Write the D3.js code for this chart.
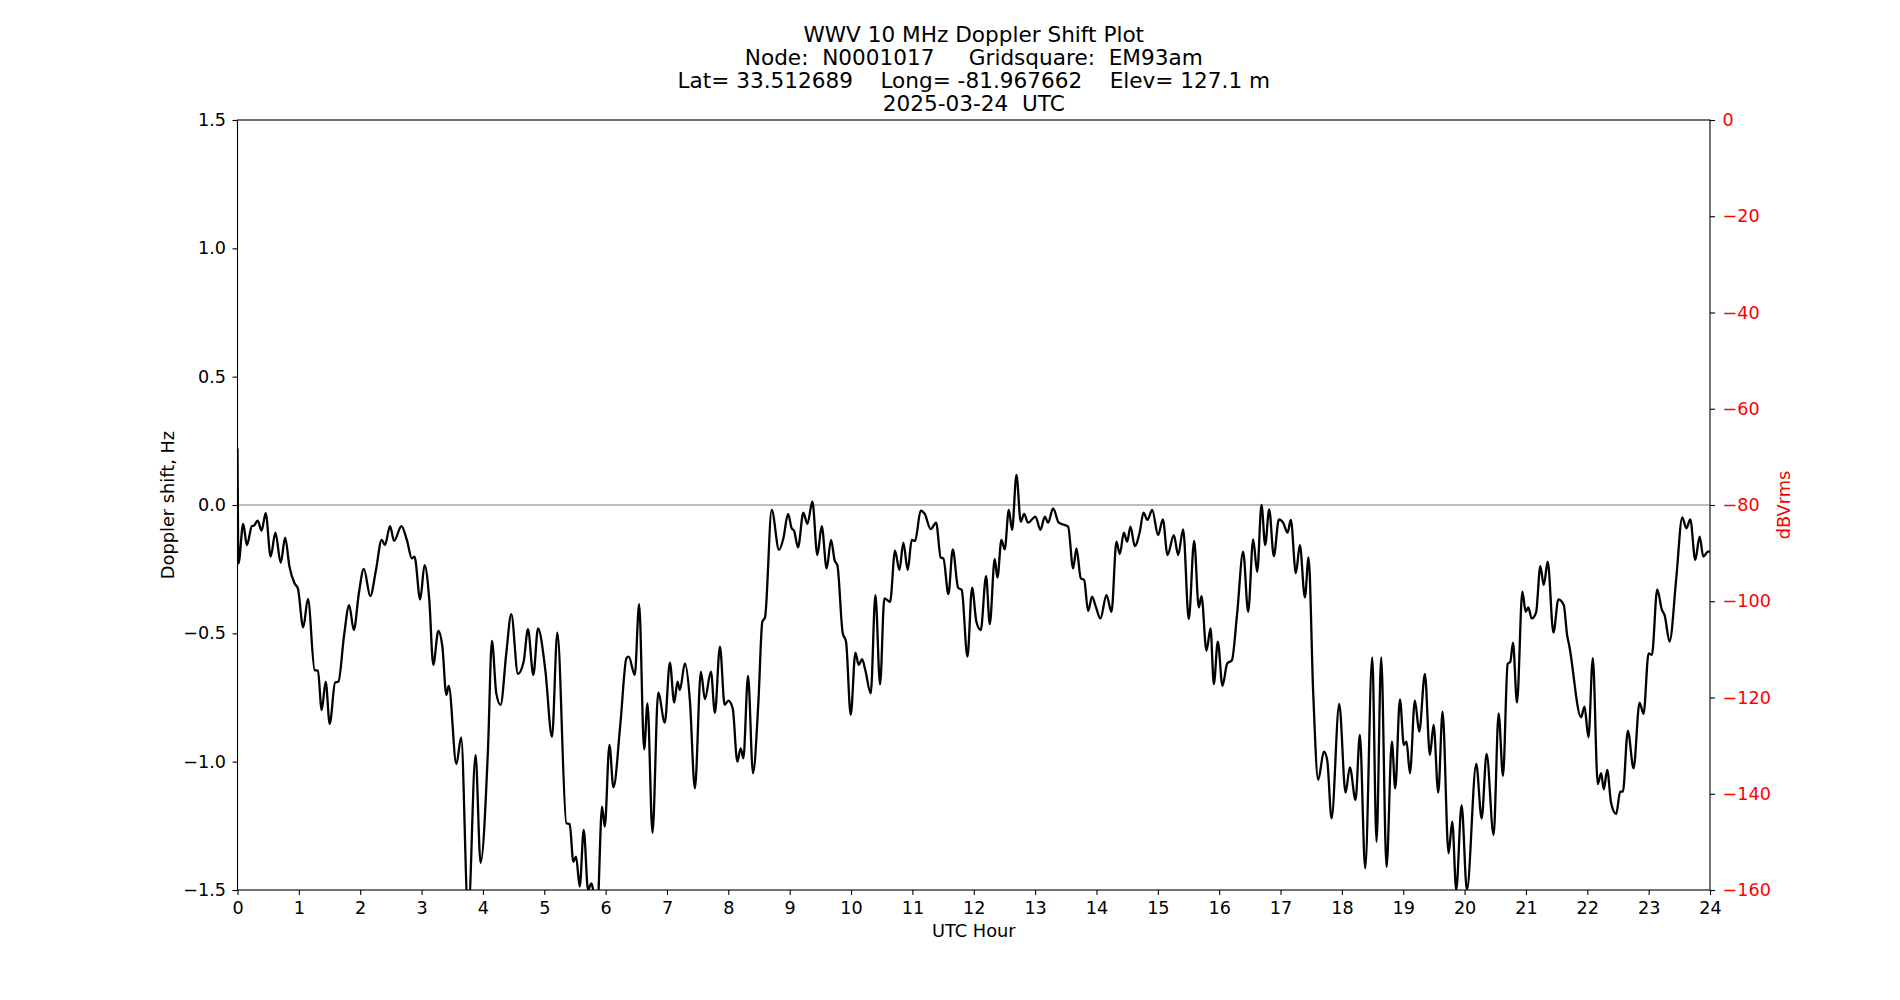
<!DOCTYPE html>
<html>
<head>
<meta charset="utf-8">
<script src="https://cdn.jsdelivr.net/npm/d3@7"></script>
<style>
  body { margin: 0; background: #fff; }
  text { font-family: "DejaVu Sans", sans-serif; }
</style>
</head>
<body>
<div id="chart"></div>
<script>
// Data
const titleLines = [
  'WWV 10 MHz Doppler Shift Plot',
  'Node:  N0001017     Gridsquare:  EM93am',
  'Lat= 33.512689    Long= -81.967662    Elev= 127.1 m',
  '2025-03-24  UTC'
]
const xTicks = d3.range(0, 25, 1)
const yTicks = [-1.5, -1.0, -0.5, 0.0, 0.5, 1.0, 1.5]
const dbTicks = [0, -20, -40, -60, -80, -100, -120, -140, -160]

// UTC hour of each sample
const hours = [
  0.000, 0.016, 0.093, 0.153, 0.235, 0.270, 0.328, 0.393, 0.459, 0.541,
  0.617, 0.705, 0.776, 0.847, 0.929, 0.984, 1.071, 1.148, 1.257, 1.311,
  1.372, 1.437, 1.503, 1.590, 1.645, 1.738, 1.820, 1.896, 1.978, 2.060,
  2.164, 2.257, 2.350, 2.404, 2.486, 2.552, 2.672, 2.760, 2.842, 2.885,
  2.978, 3.049, 3.126, 3.191, 3.273, 3.339, 3.404, 3.443, 3.568, 3.645,
  3.760, 3.880, 3.962, 4.082, 4.147, 4.218, 4.288, 4.381, 4.462, 4.571,
  4.664, 4.734, 4.822, 4.898, 5.017, 5.126, 5.213, 5.360, 5.414, 5.474,
  5.518, 5.578, 5.643, 5.714, 5.768, 5.860, 5.942, 5.986, 6.062, 6.127,
  6.241, 6.339, 6.377, 6.475, 6.546, 6.628, 6.682, 6.764, 6.857, 6.965,
  7.047, 7.118, 7.172, 7.210, 7.292, 7.373, 7.455, 7.553, 7.618, 7.716,
  7.781, 7.863, 7.940, 8.000, 8.071, 8.147, 8.201, 8.245, 8.321, 8.402,
  8.489, 8.554, 8.598, 8.707, 8.826, 8.897, 8.973, 9.033, 9.071, 9.136,
  9.223, 9.288, 9.370, 9.451, 9.522, 9.603, 9.674, 9.734, 9.777, 9.864,
  9.918, 9.995, 10.071, 10.125, 10.179, 10.234, 10.321, 10.397, 10.473, 10.543,
  10.636, 10.717, 10.788, 10.853, 10.924, 10.989, 11.043, 11.136, 11.201, 11.299,
  11.386, 11.462, 11.505, 11.587, 11.658, 11.745, 11.804, 11.897, 11.973, 12.043,
  12.114, 12.201, 12.261, 12.342, 12.386, 12.451, 12.505, 12.571, 12.625, 12.696,
  12.766, 12.821, 12.886, 13.005, 13.087, 13.158, 13.212, 13.293, 13.386, 13.484,
  13.538, 13.620, 13.674, 13.745, 13.799, 13.864, 13.929, 13.989, 14.065, 14.163,
  14.245, 14.326, 14.380, 14.446, 14.500, 14.554, 14.625, 14.707, 14.766, 14.832,
  14.908, 15.005, 15.082, 15.158, 15.261, 15.332, 15.413, 15.505, 15.592, 15.668,
  15.712, 15.793, 15.859, 15.913, 15.978, 16.054, 16.130, 16.207, 16.293, 16.391,
  16.473, 16.554, 16.620, 16.690, 16.750, 16.815, 16.891, 16.973, 17.043, 17.114,
  17.168, 17.250, 17.315, 17.397, 17.457, 17.533, 17.614, 17.707, 17.761, 17.832,
  17.957, 18.060, 18.130, 18.223, 18.293, 18.380, 18.495, 18.565, 18.641, 18.728,
  18.815, 18.870, 18.946, 19.011, 19.054, 19.109, 19.190, 19.261, 19.353, 19.435,
  19.495, 19.571, 19.641, 19.739, 19.799, 19.864, 19.951, 20.038, 20.190, 20.278,
  20.359, 20.473, 20.555, 20.626, 20.702, 20.746, 20.789, 20.854, 20.942, 20.996,
  21.039, 21.094, 21.165, 21.235, 21.290, 21.355, 21.448, 21.529, 21.616, 21.671,
  21.709, 21.899, 21.954, 22.019, 22.090, 22.171, 22.226, 22.269, 22.324, 22.389,
  22.471, 22.536, 22.580, 22.661, 22.754, 22.852, 22.917, 22.999, 23.053, 23.140,
  23.216, 23.260, 23.341, 23.450, 23.548, 23.614, 23.679, 23.760, 23.831, 23.891,
  23.967, 24.000
]

// Doppler shift (Hz) at each hour above
const doppler = [
  0.220, -0.227, -0.074, -0.156, -0.082, -0.080, -0.061, -0.100, -0.032, -0.201,
  -0.108, -0.225, -0.127, -0.240, -0.305, -0.325, -0.477, -0.366, -0.643, -0.645,
  -0.799, -0.688, -0.853, -0.692, -0.688, -0.506, -0.390, -0.487, -0.344, -0.249,
  -0.355, -0.253, -0.136, -0.156, -0.082, -0.140, -0.082, -0.136, -0.208, -0.201,
  -0.368, -0.234, -0.370, -0.623, -0.491, -0.552, -0.740, -0.705, -1.009, -0.905,
  -1.600, -0.975, -1.394, -0.955, -0.529, -0.734, -0.779, -0.578, -0.425, -0.658,
  -0.610, -0.484, -0.662, -0.481, -0.643, -0.903, -0.497, -1.240, -1.243, -1.390,
  -1.370, -1.487, -1.266, -1.500, -1.474, -1.600, -1.175, -1.253, -0.935, -1.100,
  -0.851, -0.597, -0.591, -0.662, -0.386, -0.952, -0.773, -1.277, -0.731, -0.848,
  -0.614, -0.770, -0.688, -0.721, -0.617, -0.760, -1.104, -0.649, -0.757, -0.649,
  -0.810, -0.552, -0.779, -0.762, -0.792, -1.000, -0.948, -0.987, -0.666, -1.045,
  -0.773, -0.455, -0.438, -0.019, -0.175, -0.130, -0.035, -0.091, -0.100, -0.165,
  -0.030, -0.074, 0.013, -0.195, -0.082, -0.247, -0.136, -0.217, -0.234, -0.499,
  -0.532, -0.818, -0.575, -0.623, -0.601, -0.645, -0.734, -0.351, -0.699, -0.364,
  -0.377, -0.178, -0.253, -0.147, -0.253, -0.136, -0.140, -0.022, -0.035, -0.094,
  -0.069, -0.205, -0.208, -0.347, -0.173, -0.322, -0.331, -0.591, -0.322, -0.455,
  -0.487, -0.277, -0.464, -0.210, -0.283, -0.136, -0.173, -0.019, -0.097, 0.117,
  -0.065, -0.035, -0.069, -0.045, -0.097, -0.045, -0.069, -0.013, -0.069, -0.078,
  -0.084, -0.247, -0.169, -0.286, -0.292, -0.413, -0.357, -0.396, -0.442, -0.351,
  -0.416, -0.143, -0.191, -0.108, -0.143, -0.084, -0.160, -0.104, -0.030, -0.058,
  -0.019, -0.117, -0.056, -0.195, -0.117, -0.195, -0.095, -0.445, -0.140, -0.399,
  -0.355, -0.568, -0.481, -0.698, -0.532, -0.705, -0.618, -0.605, -0.422, -0.182,
  -0.416, -0.134, -0.260, 0.000, -0.156, -0.017, -0.199, -0.056, -0.069, -0.108,
  -0.058, -0.266, -0.156, -0.360, -0.204, -0.734, -1.071, -0.961, -0.994, -1.221,
  -0.775, -1.121, -1.022, -1.149, -0.896, -1.416, -0.594, -1.312, -0.594, -1.410,
  -0.922, -1.104, -0.757, -0.935, -0.922, -1.045, -0.762, -0.883, -0.658, -0.974,
  -0.857, -1.121, -0.805, -1.357, -1.234, -1.500, -1.169, -1.500, -1.009, -1.221,
  -0.970, -1.286, -0.812, -1.056, -0.619, -0.610, -0.536, -0.770, -0.338, -0.416,
  -0.399, -0.442, -0.419, -0.238, -0.312, -0.221, -0.497, -0.368, -0.390, -0.506,
  -0.552, -0.827, -0.786, -0.905, -0.597, -1.087, -1.045, -1.108, -1.032, -1.162,
  -1.204, -1.117, -1.117, -0.879, -1.026, -0.770, -0.814, -0.578, -0.584, -0.329,
  -0.409, -0.429, -0.532, -0.286, -0.048, -0.091, -0.056, -0.214, -0.123, -0.201,
  -0.182, -0.182
]

// Dimensions (matplotlib-like layout)
const dimensions = {
  width: 1900,
  height: 1000,
  left: 237.5,
  right: 1710,
  top: 120,
  bottom: 890
}
const titleSize = 21.6
const labelSize = 17.8
const tickSize = 17.6

const svg = d3.select('#chart')
  .append('svg')
  .attr('width', dimensions.width)
  .attr('height', dimensions.height)

// Scales
const xScale = d3.scaleLinear()
  .domain([0, 24])
  .range([dimensions.left, dimensions.right])

const yScale = d3.scaleLinear()
  .domain([-1.5, 1.5])
  .range([dimensions.bottom, dimensions.top])

const dbScale = d3.scaleLinear()
  .domain([-160, 0])
  .range([dimensions.bottom, dimensions.top])

svg.append('clipPath')
  .attr('id', 'plot-clip')
  .append('rect')
  .attr('x', dimensions.left)
  .attr('y', dimensions.top)
  .attr('width', dimensions.right - dimensions.left)
  .attr('height', dimensions.bottom - dimensions.top)

// zero line
svg.append('line')
  .attr('x1', dimensions.left)
  .attr('x2', dimensions.right)
  .attr('y1', yScale(0))
  .attr('y2', yScale(0))
  .attr('stroke', '#808080')
  .attr('stroke-width', 1.2)

// doppler trace
const line = d3.line()
  .x((d, i) => xScale(hours[i]))
  .y(d => yScale(d))
  .curve(d3.curveMonotoneX)

svg.append('path')
  .datum(doppler)
  .attr('clip-path', 'url(#plot-clip)')
  .attr('d', line)
  .attr('fill', 'none')
  .attr('stroke', '#000')
  .attr('stroke-width', 2.3)
  .attr('stroke-linejoin', 'round')

// frame
svg.append('rect')
  .attr('x', dimensions.left)
  .attr('y', dimensions.top)
  .attr('width', dimensions.right - dimensions.left)
  .attr('height', dimensions.bottom - dimensions.top)
  .attr('fill', 'none')
  .attr('stroke', '#000')
  .attr('stroke-width', 1.1)

function styleAxis(g, color) {
  g.select('.domain').remove()
  g.selectAll('.tick line').attr('stroke', '#000').attr('stroke-width', 1.1)
  g.selectAll('.tick text')
    .attr('fill', color)
    .style('font-size', tickSize + 'px')
}

// Axes
const xAxis = d3.axisBottom(xScale)
  .tickValues(xTicks)
  .tickSize(5)
  .tickPadding(6.8)
svg.append('g')
  .attr('transform', `translate(0,${dimensions.bottom})`)
  .call(xAxis)
  .call(g => styleAxis(g, '#000'))

const yAxis = d3.axisLeft(yScale)
  .tickValues(yTicks)
  .tickFormat(d3.format('.1f'))
  .tickSize(5)
  .tickPadding(6.5)
svg.append('g')
  .attr('transform', `translate(${dimensions.left},0)`)
  .call(yAxis)
  .call(g => styleAxis(g, '#000'))

const dbAxis = d3.axisRight(dbScale)
  .tickValues(dbTicks)
  .tickFormat(d3.format('d'))
  .tickSize(5)
  .tickPadding(7.5)
svg.append('g')
  .attr('transform', `translate(${dimensions.right},0)`)
  .call(dbAxis)
  .call(g => styleAxis(g, 'red'))

// Title
svg.append('g')
  .selectAll('text')
  .data(titleLines)
  .join('text')
  .attr('x', (dimensions.left + dimensions.right) / 2)
  .attr('y', (d, i) => 41.7 + i * 23.2)
  .style('text-anchor', 'middle')
  .style('font-size', titleSize + 'px')
  .style('white-space', 'pre')
  .text(d => d)

// Axis labels
svg.append('text')
  .attr('x', (dimensions.left + dimensions.right) / 2)
  .attr('y', 937)
  .style('text-anchor', 'middle')
  .style('font-size', labelSize + 'px')
  .text('UTC Hour')

svg.append('text')
  .attr('transform', `translate(174,${(dimensions.top + dimensions.bottom) / 2}) rotate(-90)`)
  .style('text-anchor', 'middle')
  .style('font-size', labelSize + 'px')
  .text('Doppler shift, Hz')

svg.append('text')
  .attr('transform', `translate(1790,${(dimensions.top + dimensions.bottom) / 2}) rotate(-90)`)
  .style('text-anchor', 'middle')
  .style('font-size', labelSize + 'px')
  .attr('fill', 'red')
  .text('dBVrms')
</script>
</body>
</html>
